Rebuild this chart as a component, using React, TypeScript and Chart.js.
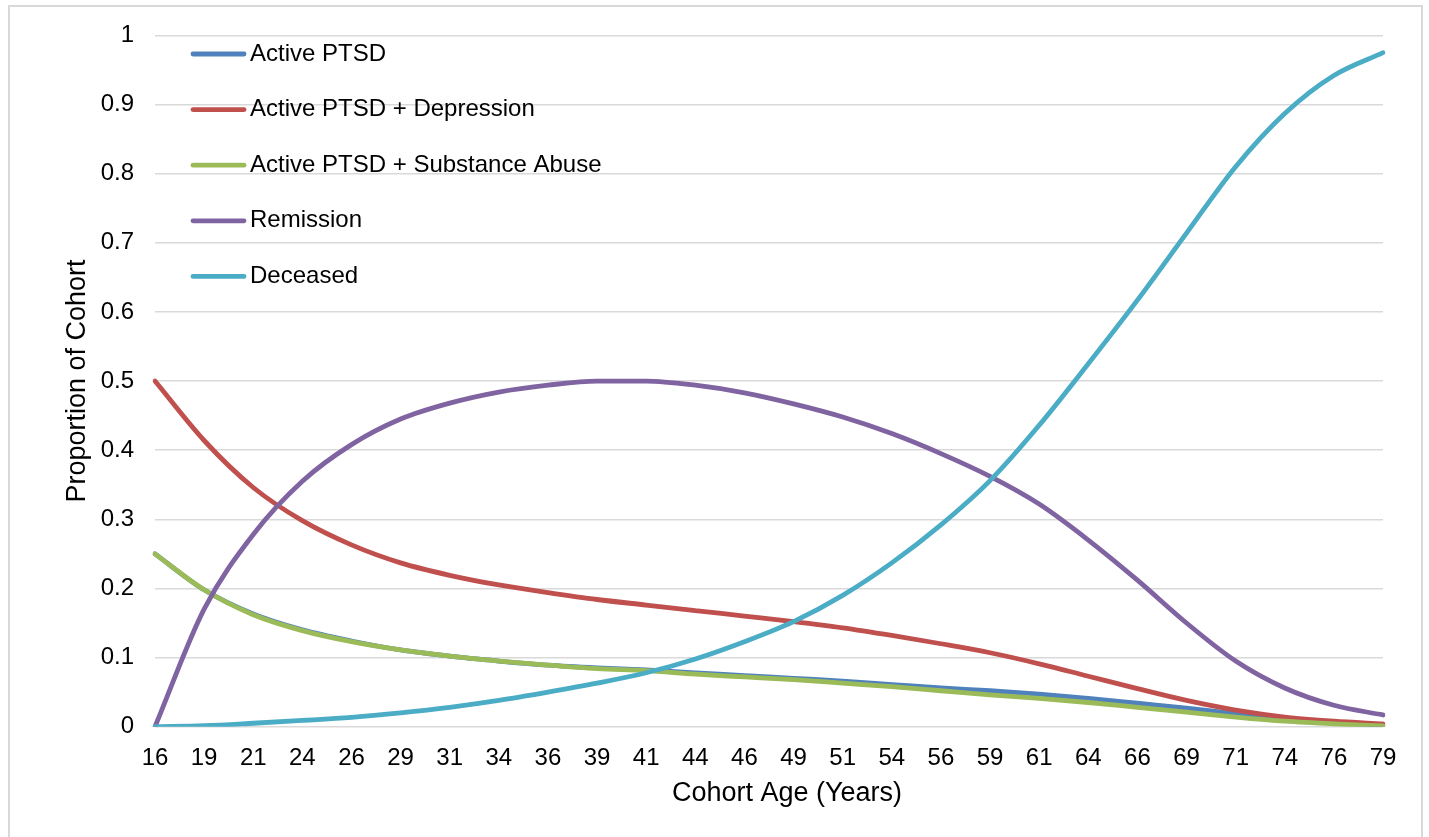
import React, { useEffect, useRef } from "react";
import { Chart, registerables } from "chart.js";

Chart.register(...registerables);

const X_LABELS = ["16", "19", "21", "24", "26", "29", "31", "34", "36", "39", "41", "44", "46", "49", "51", "54", "56", "59", "61", "64", "66", "69", "71", "74", "76", "79"];

const SERIES_NAMES = ["Active PTSD", "Active PTSD + Depression", "Active PTSD + Substance Abuse", "Remission", "Deceased"];

const ACTIVE_PTSD = [0.25, 0.198, 0.163, 0.14, 0.124, 0.111, 0.102, 0.095, 0.089, 0.085, 0.082, 0.078, 0.074, 0.07, 0.066, 0.061, 0.056, 0.052, 0.047, 0.041, 0.034, 0.027, 0.019, 0.012, 0.006, 0.002];

const PTSD_DEPRESSION = [0.5, 0.414, 0.346, 0.298, 0.263, 0.237, 0.219, 0.205, 0.194, 0.184, 0.176, 0.168, 0.16, 0.152, 0.143, 0.132, 0.12, 0.107, 0.091, 0.073, 0.055, 0.038, 0.024, 0.014, 0.008, 0.004];

const PTSD_SUBSTANCE = [0.25, 0.198, 0.162, 0.139, 0.123, 0.111, 0.102, 0.095, 0.089, 0.084, 0.081, 0.076, 0.072, 0.068, 0.063, 0.058, 0.052, 0.046, 0.041, 0.035, 0.028, 0.021, 0.014, 0.008, 0.004, 0.001];

const REMISSION = [0, 0.17, 0.278, 0.355, 0.408, 0.445, 0.468, 0.484, 0.494, 0.5, 0.5, 0.494, 0.483, 0.467, 0.448, 0.424, 0.395, 0.362, 0.322, 0.27, 0.212, 0.15, 0.095, 0.056, 0.031, 0.017];

const DECEASED = [0, 0.0015, 0.005, 0.009, 0.0135, 0.02, 0.028, 0.038, 0.05, 0.063, 0.078, 0.098, 0.123, 0.152, 0.19, 0.237, 0.292, 0.356, 0.436, 0.525, 0.617, 0.714, 0.81, 0.887, 0.942, 0.975];

const Y_TICK_LABELS = ["0", "0.1", "0.2", "0.3", "0.4", "0.5", "0.6", "0.7", "0.8", "0.9", "1"];

const X_TITLE = "Cohort Age (Years)";
const Y_TITLE = "Proportion of Cohort";

const COLORS = ["#4F81BD", "#C0504D", "#9BBB59", "#8064A2", "#4BACC6"];

const FONT = "'Liberation Sans', Arial, sans-serif";

const insideLegend = {
  id: "insideLegend",
  afterDraw(chart: any) {
    const { ctx, chartArea } = chart;
    ctx.save();
    chart.data.datasets.forEach((ds: any, i: number) => {
      const y = chartArea.top + 18.6 + i * 55.6;
      const x0 = chartArea.left + 38;
      ctx.strokeStyle = ds.borderColor;
      ctx.lineWidth = 4.8;
      ctx.lineCap = "round";
      ctx.beginPath();
      ctx.moveTo(x0, y);
      ctx.lineTo(x0 + 51, y);
      ctx.stroke();
      ctx.fillStyle = "#000";
      ctx.font = `24px ${FONT}`;
      ctx.textBaseline = "middle";
      ctx.textAlign = "left";
      ctx.fillText(ds.label, x0 + 57, y);
    });
    // x-axis title (Excel places it slightly right of centre)
    ctx.font = `27px ${FONT}`;
    ctx.textAlign = "center";
    ctx.textBaseline = "middle";
    ctx.fillStyle = "#000";
    ctx.fillText(X_TITLE, (chartArea.left + chartArea.right) / 2 + 18, chartArea.bottom + 66.5);
    ctx.restore();
  },
};

export default function App() {
  const ref = useRef<HTMLCanvasElement | null>(null);

  useEffect(() => {
    if (!ref.current) return;
    const seriesData = [ACTIVE_PTSD, PTSD_DEPRESSION, PTSD_SUBSTANCE, REMISSION, DECEASED];
    const chart = new Chart(ref.current, {
      type: "line",
      data: {
        labels: X_LABELS,
        datasets: seriesData.map((d, i) => ({
          label: SERIES_NAMES[i],
          data: d,
          borderColor: COLORS[i],
          backgroundColor: COLORS[i],
          borderWidth: 4.8,
          pointRadius: 0,
          pointHoverRadius: 0,
          cubicInterpolationMode: "monotone" as const,
          borderCapStyle: "round" as const,
          borderJoinStyle: "round" as const,
          fill: false,
          order: seriesData.length - 1 - i,
        })),
      },
      options: {
        responsive: false,
        animation: false,
        devicePixelRatio: 1,
        layout: { padding: { left: 0, right: 46, top: 34.7, bottom: 0 } },
        plugins: {
          legend: { display: false },
          tooltip: { enabled: false },
        },
        scales: {
          x: {
            type: "category",
            offset: false,
            grid: { display: false, drawTicks: false },
            border: { display: false },
            ticks: {
              autoSkip: false,
              maxRotation: 0,
              minRotation: 0,
              padding: 17,
              color: "#000",
              font: { family: FONT, size: 24 },
            },
            title: { display: false },
            afterFit: (s: any) => {
              s.height = 110.3;
            },
          },
          y: {
            min: 0,
            max: 1,
            grid: { color: "#d9d9d9", lineWidth: 1.5, drawTicks: false },
            border: { display: false },
            ticks: {
              stepSize: 0.1,
              padding: 21,
              color: "#000",
              font: { family: FONT, size: 24 },
              callback: (_v: any, i: number) => Y_TICK_LABELS[i],
            },
            title: {
              display: true,
              text: Y_TITLE,
              color: "#000",
              font: { family: FONT, size: 27 },
              padding: { top: 61, bottom: 0 },
            },
            afterFit: (s: any) => {
              s.width = 155;
            },
          },
        },
      },
      plugins: [insideLegend],
    });
    return () => chart.destroy();
  }, []);

  return (
    <div style={{ position: "fixed", left: 0, top: 0, width: 1429, height: 837, overflow: "hidden", background: "#fff" }}>
      <div
        style={{
          position: "absolute",
          left: 8,
          top: 5,
          width: 1415,
          height: 860,
          boxSizing: "border-box",
          border: "2px solid #d9d9d9",
        }}
      />
      <canvas ref={ref} width={1429} height={837} style={{ position: "absolute", left: 0, top: 0, display: "block" }} />
    </div>
  );
}
